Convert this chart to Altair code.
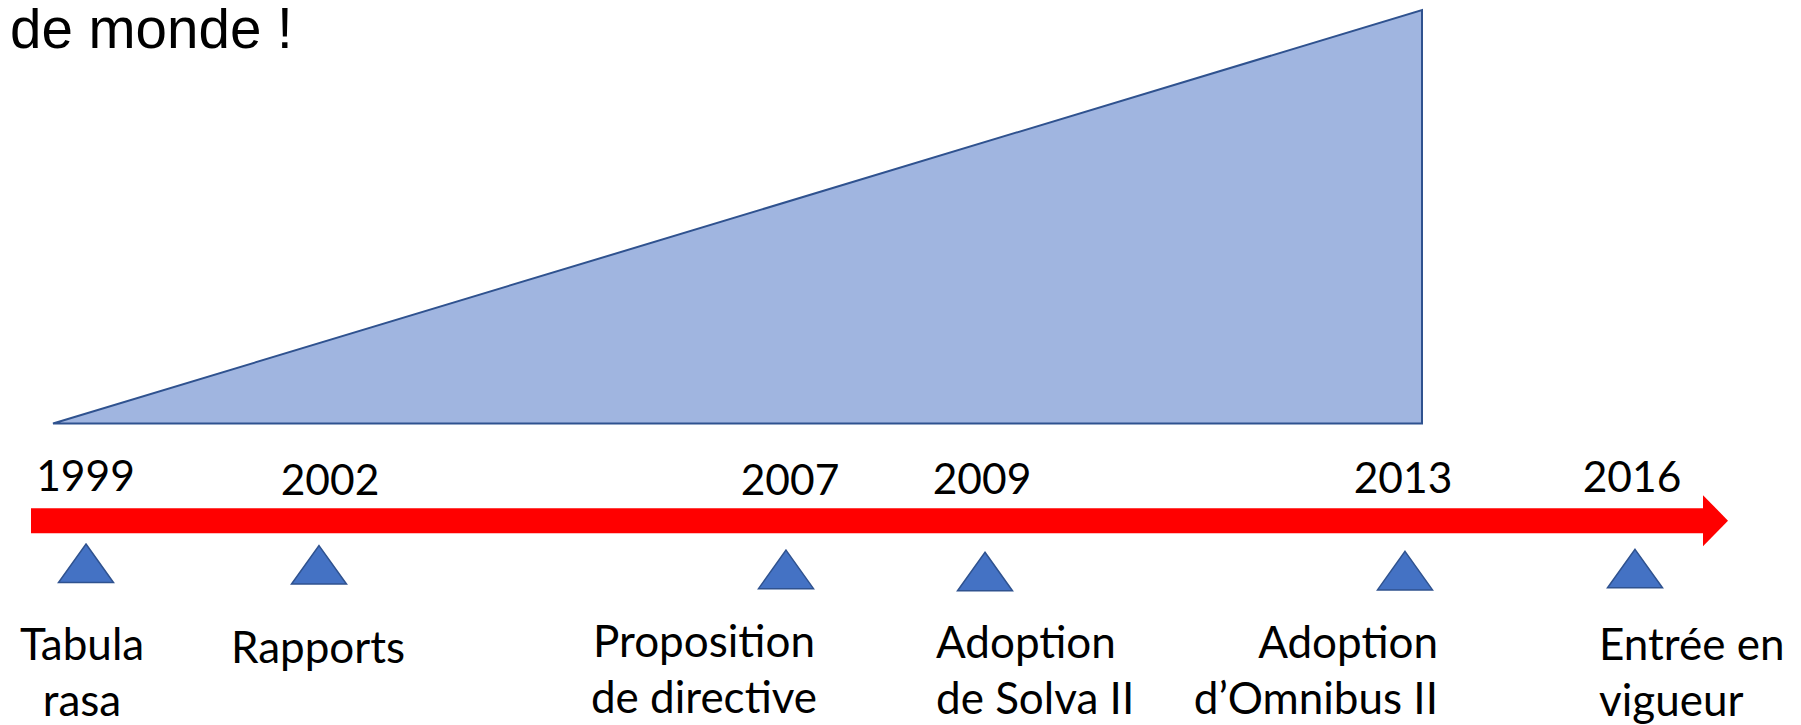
import altair as alt
import pandas as pd

# ---- data ----
years = ["1999", "2002", "2007", "2009", "2013", "2016"]
event_pos = [86, 319, 786, 985, 1405, 1635]            # timeline position of each milestone marker
marker_level = [-33.8, -34.2, -35.3, -35.8, -35.6, -35.1]
year_label_pos = [85.5, 330, 790, 982, 1403, 1632]
year_label_level = [-16.3, -17.3, -17.3, -17.1, -16.8, -16.6]

event_labels = ["Tabula\nrasa", "Rapports", "Proposition\nde directive",
                "Adoption\nde Solva II", "Adoption\nd\u2019Omnibus II", "Entr\u00e9e en\nvigueur"]
label_pos = [82, 318, 704, 936, 1438, 1599]
label_align = ["center", "center", "center", "left", "right", "left"]
label_level = [-57.2, -57.9, -56.5, -56.7, -56.7, -57.2]

ramp_pos = [53, 1422]          # growing wedge from 1999 to 2013
ramp_value = [0, 100]

timeline_pos = [31, 1703]      # red arrow shaft
timeline_level = [-23.5]
arrow_head_pos = [1715.5]

title_text = ["de monde !"]
title_pos = [10]
title_level = [90.8]

# ---- tables ----
events = pd.DataFrame({"year": years, "pos": event_pos, "level": marker_level})
year_df = pd.DataFrame({"year": years, "pos": year_label_pos, "level": year_label_level})
label_df = pd.DataFrame({"label": event_labels, "pos": label_pos,
                         "align": label_align, "level": label_level})
ramp_df = pd.DataFrame({"pos": ramp_pos, "level": ramp_value, "base": [0, 0]})
shaft_df = pd.DataFrame({"pos": [timeline_pos[0]], "pos2": [timeline_pos[1]], "level": timeline_level})
head_df = pd.DataFrame({"pos": arrow_head_pos, "level": timeline_level})
title_df = pd.DataFrame({"text": title_text, "pos": title_pos, "level": title_level})

xs = alt.Scale(domain=[8, 1793], nice=False, zero=False)
ys = alt.Scale(domain=[-72.935, 100.5], nice=False, zero=False)
X = alt.X("pos:Q", scale=xs, axis=None)
Y = alt.Y("level:Q", scale=ys, axis=None)

ramp = alt.Chart(ramp_df).mark_area(
    color="#A0B5E0", stroke="#2F528F", strokeWidth=2, opacity=1, line=False
).encode(x=X, y=Y, y2=alt.Y2("base:Q"))

shaft = alt.Chart(shaft_df).mark_rule(
    color="#FF0000", strokeWidth=25, strokeCap="butt"
).encode(x=X, x2=alt.X2("pos2:Q"), y=Y)

head = alt.Chart(head_df).mark_point(
    shape="M-0.49,-1L0.49,0L-0.49,1Z", filled=True, color="#FF0000",
    size=2601, opacity=1, strokeWidth=0
).encode(x=X, y=Y)

markers = alt.Chart(events).mark_point(
    shape="M0,-0.7L1,0.7L-1,0.7Z", filled=True, fill="#4472C4",
    stroke="#2F528F", strokeWidth=1.5, size=3025, opacity=1
).encode(x=X, y=Y)

year_text = alt.Chart(year_df).mark_text(
    font="Lato", fontSize=42.5, color="black", align="center", baseline="alphabetic"
).encode(x=X, y=Y, text="year:N")

label_layers = []
for a in ["center", "left", "right"]:
    label_layers.append(
        alt.Chart(label_df).transform_filter(alt.datum.align == a).mark_text(
            font="Lato", fontSize=44, color="black", align=a,
            baseline="alphabetic", lineBreak="\n", lineHeight=56
        ).encode(x=X, y=Y, text="label:N")
    )

title = alt.Chart(title_df).mark_text(
    font="Liberation Sans", fontSize=56.5, color="black", align="left", baseline="alphabetic"
).encode(x=X, y=Y, text="text:N")

chart = alt.layer(ramp, shaft, head, markers, year_text, *label_layers, title).properties(
    width=1785, height=717, padding=0, background="white",
    autosize=alt.AutoSizeParams(type="none", contains="padding"),
).configure_view(stroke=None)

chart.save("out.html", embed_options={"renderer": "svg", "actions": False})
